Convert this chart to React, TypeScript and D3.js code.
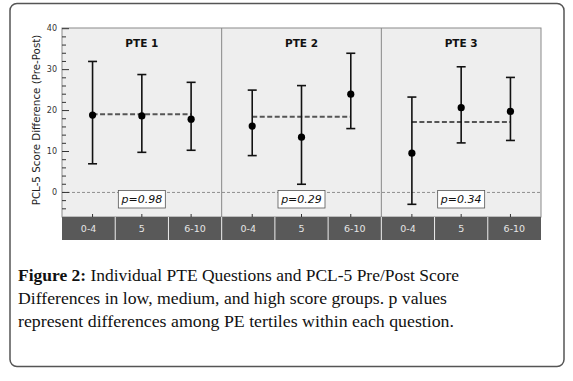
import React from "react";
import * as d3 from "d3";

const panels = ["PTE 1", "PTE 2", "PTE 3"];
const groups = ["0-4", "5", "6-10"];
const means = [
  [18.9, 18.7, 17.9],
  [16.2, 13.5, 24.0],
  [9.6, 20.7, 19.8],
];
const uppers = [
  [32.0, 28.8, 26.9],
  [25.0, 26.1, 34.0],
  [23.3, 30.7, 28.1],
];
const lowers = [
  [7.0, 9.8, 10.3],
  [9.0, 2.0, 15.6],
  [-2.9, 12.1, 12.7],
];
const overallMeans = [19.1, 18.5, 17.2];
const pValues = ["p=0.98", "p=0.29", "p=0.34"];
const majorTicks = [0, 10, 20, 30, 40];
const minorTicks = [-4, -2, 2, 4, 6, 8, 12, 14, 16, 18, 22, 24, 26, 28, 32, 34, 36, 38];
const captionLines = [
  ["Figure 2:", " Individual PTE Questions and PCL-5 Pre/Post Score"],
  ["", "Differences in low, medium, and high score groups. p values"],
  ["", "represent differences among PE tertiles within each question."],
];
const captionWidths = [441, 429, 436];

export default function App() {
  const W = 573, H = 381;
  const plotL = 62, plotR = 541, plotT = 28, plotB = 217;
  const barB = 240;
  const y = d3.scaleLinear().domain([-6, 40]).range([plotB, plotT + 0.7]);
  const panelX = d3.scaleBand<string>().domain(panels).range([plotL, plotR]);
  const pw = panelX.bandwidth();
  const font = "'DejaVu Sans', Verdana, sans-serif";

  return (
    <svg width={W} height={H} style={{ position: "absolute", left: 0, top: 0 }}>
      <rect x={10} y={3.5} width={554} height={363} rx={7} fill="#fff" stroke="#555" strokeWidth={1.5} />
      <rect x={plotL} y={plotT} width={plotR - plotL} height={plotB - plotT} fill="#eeeeee" stroke="#8a8a8a" strokeWidth={1} />
      <line x1={plotL} x2={plotR} y1={y(0)} y2={y(0)} stroke="#777" strokeWidth={0.8} strokeDasharray="3,2" />
      {majorTicks.map((t) => (
        <g key={"M" + t}>
          <line x1={plotL} x2={plotL + 7} y1={y(t)} y2={y(t)} stroke="#333" strokeWidth={1} />
          <text x={57} y={y(t)} dy="0.32em" textAnchor="end" fontSize={8} fill="#333" fontFamily={font}>{t}</text>
        </g>
      ))}
      {minorTicks.map((t) => (
        <line key={"m" + t} x1={plotL} x2={plotL + 4} y1={y(t)} y2={y(t)} stroke="#333" strokeWidth={1} />
      ))}
      <text transform={`translate(40,120) rotate(-90)`} textAnchor="middle" fontSize={10.3} fill="#222" fontFamily={font}>
        PCL-5 Score Difference (Pre-Post)
      </text>
      <rect x={plotL} y={plotB} width={plotR - plotL} height={barB - plotB} fill="#595959" />
      {panels.map((p, pi) => {
        const x0 = panelX(p)!;
        const xp = d3.scalePoint<string>().domain(groups).range([x0, x0 + pw]).padding(0.62);
        const bx = d3.scaleBand<string>().domain(groups).range([x0, x0 + pw]);
        const mx = xp(groups[0])!, Mx = xp(groups[2])!;
        return (
          <g key={p}>
            {pi > 0 && <line x1={x0} x2={x0} y1={plotT} y2={plotB} stroke="#888" strokeWidth={1} />}
            <text x={x0 + pw / 2} y={47} textAnchor="middle" fontSize={10.5} fontWeight="bold" fill="#111" fontFamily={font}>{p}</text>
            {groups.map((g, gi) => (
              <g key={g}>
                {(pi > 0 || gi > 0) && <line x1={bx(g)!} x2={bx(g)!} y1={plotB} y2={barB} stroke="#eee" strokeWidth={1} />}
                <text x={bx(g)! + bx.bandwidth() / 2} y={(plotB + barB) / 2} dy="0.35em" textAnchor="middle" fontSize={9.5} fill="#e6e6e6" fontFamily={font}>{g}</text>
                <line x1={xp(g)!} x2={xp(g)!} y1={plotB} y2={plotB - 3} stroke="#333" strokeWidth={1} />
              </g>
            ))}
            <line x1={mx} x2={Mx} y1={y(overallMeans[pi])} y2={y(overallMeans[pi])} stroke="#555" strokeWidth={2} strokeDasharray="5,2.5" />
            {groups.map((g, gi) => {
              const cx = xp(g)!;
              return (
                <g key={"e" + g}>
                  <line x1={cx} x2={cx} y1={y(uppers[pi][gi])} y2={y(lowers[pi][gi])} stroke="#111" strokeWidth={1.6} />
                  <line x1={cx - 4.5} x2={cx + 4.5} y1={y(uppers[pi][gi])} y2={y(uppers[pi][gi])} stroke="#111" strokeWidth={1.6} />
                  <line x1={cx - 4.5} x2={cx + 4.5} y1={y(lowers[pi][gi])} y2={y(lowers[pi][gi])} stroke="#111" strokeWidth={1.6} />
                  <circle cx={cx} cy={y(means[pi][gi])} r={3.6} fill="#000" />
                </g>
              );
            })}
            <rect x={xp(groups[1])! - 23.5} y={190.5} width={47} height={17.5} fill="#fff" stroke="#555" strokeWidth={0.8} />
            <text x={xp(groups[1])!} y={199.5} dy="0.35em" textAnchor="middle" fontSize={11} fontStyle="italic" fill="#111" fontFamily={font}>{pValues[pi]}</text>
          </g>
        );
      })}
      {captionLines.map((l, i) => (
        <text key={i} x={18} y={281 + i * 23} fontSize={16.5} fill="#111" fontFamily="'Liberation Serif', 'Times New Roman', serif"
          textLength={captionWidths[i]} lengthAdjust="spacingAndGlyphs">
          {l[0] && <tspan fontWeight="bold">{l[0]}</tspan>}
          <tspan>{l[1]}</tspan>
        </text>
      ))}
    </svg>
  );
}
